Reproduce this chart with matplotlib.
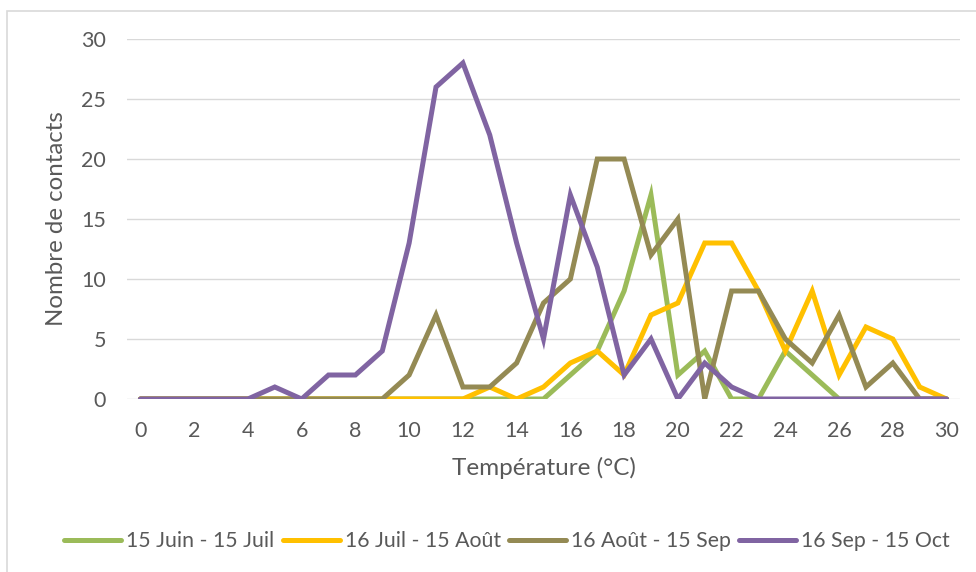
import matplotlib
matplotlib.use("Agg")
import matplotlib.pyplot as plt
from matplotlib.patches import Rectangle

plt.rcParams['font.family'] = ['Lato', 'DejaVu Sans']

temperatures = list(range(0, 31))
series_names = ["15 Juin - 15 Juil", "16 Juil - 15 Août", "16 Août - 15 Sep", "16 Sep - 15 Oct"]
juin_juil = [0, 0, 0, 0, 0, 0, 0, 0, 0, 0, 0, 0, 0, 0, 0, 0, 2, 4, 9, 17, 2, 4, 0, 0, 4, 2, 0, 0, 0, 0, 0]
juil_aout = [0, 0, 0, 0, 0, 0, 0, 0, 0, 0, 0, 0, 0, 1, 0, 1, 3, 4, 2, 7, 8, 13, 13, 9, 4, 9, 2, 6, 5, 1, 0]
aout_sep = [0, 0, 0, 0, 0, 0, 0, 0, 0, 0, 2, 7, 1, 1, 3, 8, 10, 20, 20, 12, 15, 0, 9, 9, 5, 3, 7, 1, 3, 0, 0]
sep_oct = [0, 0, 0, 0, 0, 1, 0, 2, 2, 4, 13, 26, 28, 22, 13, 5, 17, 11, 2, 5, 0, 3, 1, 0, 0, 0, 0, 0, 0, 0, 0]
colors = ["#9BBB59", "#FFC000", "#948A54", "#8064A2"]
x_ticks = list(range(0, 31, 2))
y_ticks = [0, 5, 10, 15, 20, 25, 30]

W, H = 976, 572
fig = plt.figure(figsize=(W / 100, H / 100), dpi=100)
ax = fig.add_axes([127 / W, 1 - 399 / H, (960 - 127) / W, (399 - 39) / H])

for vals, name, c in zip([juin_juil, juil_aout, aout_sep, sep_oct], series_names, colors):
    ax.plot(temperatures, vals, color=c, lw=3.6, label=name,
            solid_capstyle='round', solid_joinstyle='miter', zorder=3)

ax.set_xlim(-0.5, 30.5)
ax.set_ylim(0, 30)
ax.set_xticks(x_ticks)
ax.set_yticks(y_ticks)
ax.grid(axis='y', color='#D9D9D9', lw=1.0, zorder=0)
for s in ax.spines.values():
    s.set_visible(False)
ax.tick_params(axis='both', length=0, labelsize=15.5, labelcolor='#595959')
ax.tick_params(axis='y', pad=15)
ax.tick_params(axis='x', pad=16)
ax.set_xlabel("Température (°C)", fontsize=17.5, color='#595959', labelpad=11)
ax.set_ylabel("Nombre de contacts", fontsize=17.3, color='#595959', labelpad=10)

leg = fig.legend(loc='center', bbox_to_anchor=(507 / W, 1 - 541 / H), ncol=4,
                 frameon=False, fontsize=15.3, handlelength=2.68, handletextpad=0.24,
                 columnspacing=0.38, labelcolor='#595959')
for line in leg.get_lines():
    line.set_linewidth(3.6)
    line.set_solid_capstyle('round')

fig.patches.append(Rectangle((7 / W, -0.1), 1.2, 1 - 11 / H + 0.1, transform=fig.transFigure,
                             fill=False, edgecolor='#D9D9D9', lw=1.2, zorder=-1))

fig.savefig("out.png", dpi=100)
